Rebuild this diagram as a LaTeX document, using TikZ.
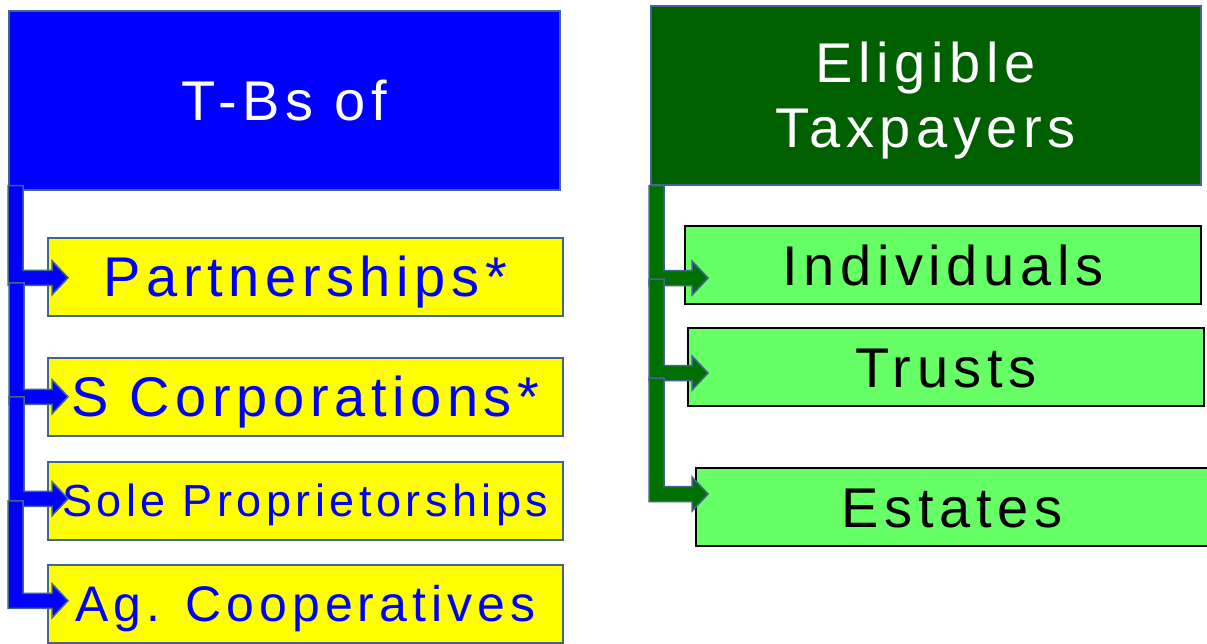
\documentclass[tikz,border=0pt]{standalone}
\usepackage{fontspec}
\setmainfont{Liberation Sans}[LetterSpace=10]
\usepackage{xcolor}
\definecolor{headblue}{RGB}{0, 0, 255}
\definecolor{headgreen}{RGB}{0, 96, 0}
\definecolor{arrowgreen}{RGB}{0, 112, 0}
\definecolor{boxyellow}{RGB}{255, 255, 0}
\definecolor{boxgreen}{RGB}{102, 255, 102}
\definecolor{edgeblue}{RGB}{65, 100, 145}
\usetikzlibrary{calc}

% elbow arrow: fill, top of the upright bar, tip
\newcommand{\bentarrow}[3]{%
  \filldraw[bent, fill=#1] let \p1=#2, \p2=#3 in
    (\x1,\y1) -- (\x1,\y2-7.5pt) -- (\x2-16pt,\y2-7.5pt) -- (\x2-16pt,\y2-17pt)
    -- (\x2,\y2) -- (\x2-16pt,\y2+17pt) -- (\x2-16pt,\y2+7.5pt)
    -- (\x1+15pt,\y2+7.5pt) -- (\x1+15pt,\y1) -- cycle;}

\begin{document}
\begin{tikzpicture}[
    x=1pt, y=-1pt,
    header/.style={draw=edgeblue, line width=1.5pt, anchor=north west, inner sep=0pt,
                   align=center, text=white, minimum width=551pt, minimum height=179pt,
                   font=\fontsize{56}{65}\selectfont, text height=40pt, text depth=0pt},
    entry/.style={anchor=north west, inner sep=0pt, minimum width=515pt, minimum height=78pt,
                  text depth=0pt},
    yellowbox/.style={entry, fill=boxyellow, draw=edgeblue, line width=1.5pt, text=headblue},
    greenbox/.style={entry, fill=boxgreen, draw=black, line width=2pt, text=black,
                     minimum width=516pt, font=\fontsize{56}{60}\selectfont, text height=40pt},
    bent/.style={draw=edgeblue, line width=1.5pt, line join=miter}
]
    \useasboundingbox (0,0) rectangle (1207,643);

    \node[header, fill=headblue] (tbs) at (8,10) {T-Bs of};
    \node[yellowbox, font=\fontsize{56}{60}\selectfont, text height=40pt] (part) at (47,237) {Partnerships*};
    \node[yellowbox, font=\fontsize{56}{60}\selectfont, text height=40pt] (scorp) at (47,357) {S Corporations*};
    \node[yellowbox, font=\fontsize{45}{50}\selectfont, text height=32pt] (sole) at (47,461) {Sole Proprietorships};
    \node[yellowbox, font=\fontsize{50}{55}\selectfont, text height=36pt] (agco) at (47,564) {Ag. Cooperatives};

    \node[header, fill=headgreen, minimum width=550pt, text height=105pt] (elig) at (650,5) {Eligible\\Taxpayers};
    \node[greenbox] (indiv) at (684,225) {Individuals};
    \node[greenbox] (trust) at (687,327) {Trusts};
    \node[greenbox, minimum width=512pt] (estate) at (695,467) {Estates};

    % Connectors
    \coordinate (tipA) at ($(part.west)+(21,1)$);
    \coordinate (tipB) at ($(scorp.west)+(21,0)$);
    \coordinate (tipC) at ($(sole.west)+(21,-2)$);
    \coordinate (tipD) at ($(agco.west)+(21,-3)$);
    \bentarrow{headblue}{($(tbs.south west)+(0,-5)$)}{(tipA)}
    \bentarrow{headblue}{($(tbs.south west |- tipA)+(1,5)$)}{(tipB)}
    \bentarrow{headblue}{($(tbs.south west |- tipB)+(1,0)$)}{(tipC)}
    \bentarrow{headblue}{($(tbs.south west |- tipC)+(0,2)$)}{(tipD)}

    \coordinate (tipE) at ($(indiv.west)+(24,13)$);
    \coordinate (tipF) at ($(trust.west)+(21,6)$);
    \coordinate (tipG) at ($(estate.west)+(13,-13)$);
    \bentarrow{arrowgreen}{($(elig.south west)+(-1,0)$)}{(tipE)}
    \bentarrow{arrowgreen}{($(elig.south west |- tipE)+(-1,1)$)}{(tipF)}
    \bentarrow{arrowgreen}{($(elig.south west |- tipF)+(-1,5)$)}{(tipG)}
\end{tikzpicture}
\end{document}
